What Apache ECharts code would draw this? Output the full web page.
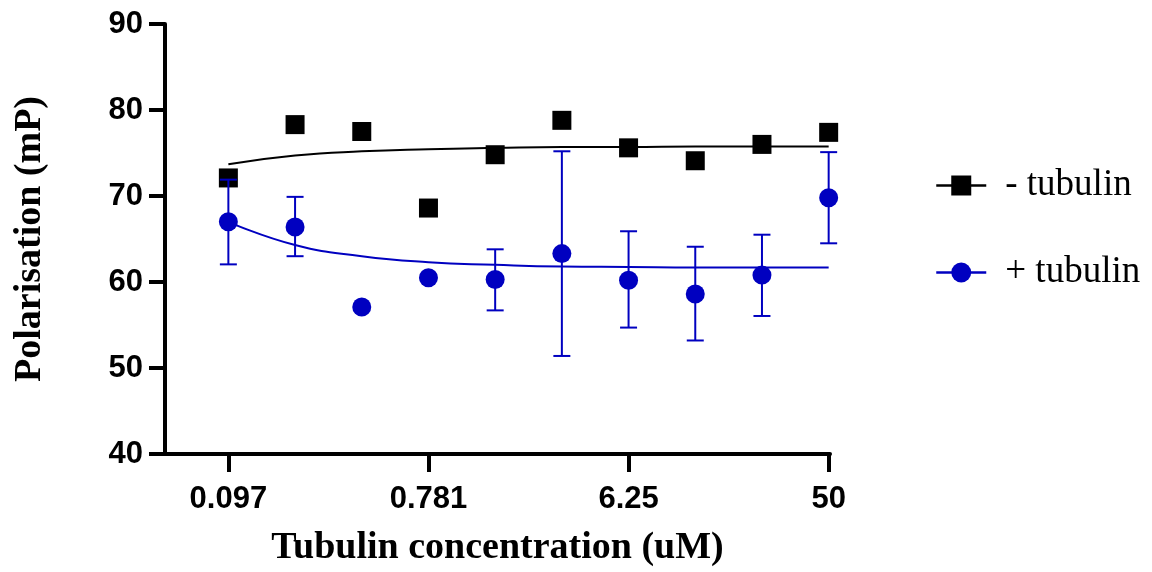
<!DOCTYPE html>
<html><head><meta charset="utf-8">
<script src="https://cdn.jsdelivr.net/npm/echarts@6/dist/echarts.min.js"></script>
<style>html,body{margin:0;padding:0;background:#fff}#c{width:1152px;height:572px}</style>
</head><body><div id="c"></div>
<script>
// Concentrations (uM), two-fold dilution series
const concentrations = [0.09765625, 0.1953125, 0.390625, 0.78125, 1.5625, 3.125, 6.25, 12.5, 25, 50];
const tickConcentrations = [0.09765625, 0.78125, 6.25, 50];
const tickLabels = ['0.097', '0.781', '6.25', '50'];
const yTicks = [40, 50, 60, 70, 80, 90];

// - tubulin (mean values)
const minusTubulin = [72.1, 78.3, 77.5, 68.6, 74.8, 78.8, 75.6, 74.1, 76.0, 77.4];
// + tubulin (mean values and error bar limits; null = no visible bar)
const plusTubulin = [67.0, 66.4, 57.1, 60.5, 60.3, 63.3, 60.2, 58.6, 60.8, 69.8];
const plusLow  = [62.05, 63.0, null, null, 56.7, 51.4, 54.7, 53.2, 56.05, 64.5];
const plusHigh = [71.9, 69.9, null, null, 63.8, 75.2, 65.9, 64.1, 65.5, 75.1];

// Fitted curves at each concentration
const minusFit = [73.7, 74.7, 75.2, 75.45, 75.6, 75.7, 75.7, 75.75, 75.75, 75.75];
const plusFit  = [67.0, 64.3, 63.0, 62.3, 62.0, 61.8, 61.75, 61.7, 61.7, 61.7];

const BLUE = '#0000c0';
const lx = c => Math.log2(c);
const xMin = lx(concentrations[0]) - 0.95;
const xMax = lx(concentrations[concentrations.length - 1]) + 0.02;

const pts = arr => concentrations.map((c, i) => [lx(c), arr[i]]);
const errData = concentrations.map((c, i) => [lx(c), plusLow[i], plusHigh[i]]).filter(d => d[1] != null);

const chart = echarts.init(document.getElementById('c'));
chart.setOption({
  animation: false,
  backgroundColor: '#fff',
  grid: { left: 165, top: 24, right: 322, bottom: 115, containLabel: false },
  xAxis: {
    type: 'value', min: xMin, max: xMax,
    name: 'Tubulin concentration (uM)', nameLocation: 'middle', nameGap: 75,
    nameTextStyle: { fontFamily: 'Liberation Serif', fontWeight: 'bold', fontSize: 38, color: '#000' },
    axisLine: { show: true, onZero: false, lineStyle: { color: '#000', width: 4 } },
    axisTick: { show: true, length: 18, lineStyle: { color: '#000', width: 4 }, customValues: tickConcentrations.map(lx) },
    axisLabel: {
      customValues: tickConcentrations.map(lx), margin: 30,
      fontFamily: 'Liberation Sans', fontWeight: 'bold', fontSize: 31, color: '#000',
      formatter: v => { const i = tickConcentrations.findIndex(c => Math.abs(lx(c) - v) < 1e-6); return i >= 0 ? tickLabels[i] : ''; }
    },
    splitLine: { show: false }
  },
  yAxis: {
    type: 'value', min: 40, max: 90, interval: 10,
    name: 'Polarisation (mP)', nameLocation: 'middle', nameGap: 116, nameRotate: 90,
    nameTextStyle: { fontFamily: 'Liberation Serif', fontWeight: 'bold', fontSize: 38, color: '#000' },
    axisLine: { show: true, onZero: false, lineStyle: { color: '#000', width: 4 } },
    axisTick: { show: true, length: 16, lineStyle: { color: '#000', width: 4 } },
    axisLabel: { margin: 22, fontFamily: 'Liberation Sans', fontWeight: 'bold', fontSize: 31, color: '#000',
      formatter: v => yTicks.includes(v) ? String(v) : '' },
    splitLine: { show: false }
  },
  legend: {
    orient: 'vertical', left: 930, top: 162, itemGap: 50, itemWidth: 50, itemHeight: 25,
    textStyle: { fontFamily: 'Liberation Serif', fontSize: 37, color: '#000', padding: [0, 0, 0, 14] },
    lineStyle: { width: 2.5, opacity: 1 },
    data: ['- tubulin', '+ tubulin']
  },
  series: [
    { name: '- tubulin fit', type: 'line', data: pts(minusFit), smooth: true, showSymbol: false,
      lineStyle: { color: '#000', width: 2 }, z: 2, silent: true },
    { name: '+ tubulin fit', type: 'line', data: pts(plusFit), smooth: true, showSymbol: false,
      lineStyle: { color: BLUE, width: 2 }, z: 2, silent: true },
    { name: '- tubulin', type: 'line', data: pts(minusTubulin), symbol: 'rect', symbolSize: 19,
      itemStyle: { color: '#000' }, lineStyle: { color: '#000', width: 0, opacity: 0 }, z: 3 },
    { name: '+ tubulin', type: 'line', data: pts(plusTubulin), symbol: 'circle', symbolSize: 19,
      itemStyle: { color: BLUE }, lineStyle: { color: BLUE, width: 0, opacity: 0 }, z: 5 },
    { name: '+ tubulin err', type: 'custom', z: 4, data: errData,
      renderItem: (params, api) => {
        const x = api.value(0);
        const lo = api.coord([x, api.value(1)]);
        const hi = api.coord([x, api.value(2)]);
        const h = 8.5;
        const st = { stroke: BLUE, lineWidth: 2 };
        return { type: 'group', children: [
          { type: 'line', shape: { x1: lo[0], y1: lo[1], x2: hi[0], y2: hi[1] }, style: st },
          { type: 'line', shape: { x1: lo[0] - h, y1: lo[1], x2: lo[0] + h, y2: lo[1] }, style: st },
          { type: 'line', shape: { x1: hi[0] - h, y1: hi[1], x2: hi[0] + h, y2: hi[1] }, style: st }
        ]};
      }
    }
  ]
});
</script>
</body></html>
